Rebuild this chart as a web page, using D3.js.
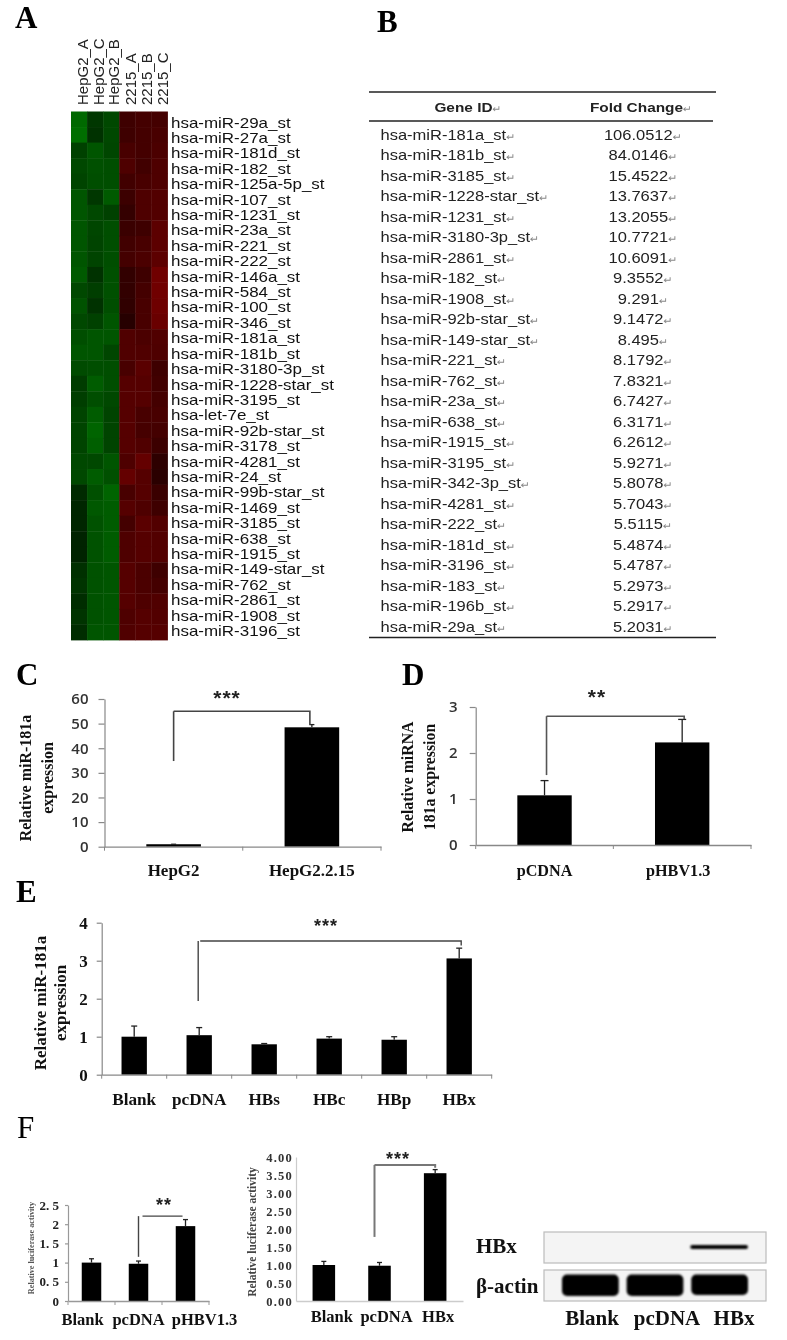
<!DOCTYPE html>
<html><head><meta charset="utf-8">
<script src="https://cdnjs.cloudflare.com/ajax/libs/d3/7.8.5/d3.min.js"></script>
<style>
html,body{margin:0;padding:0;background:#fff}
svg{display:block;filter:blur(.4px)}
</style></head><body><svg id="c" width="787" height="1340"></svg>
<script>
// ---------- Panel A data
const heatColumns=["HepG2_A","HepG2_C","HepG2_B","2215_A","2215_B","2215_C"];
const heatGenes=["hsa-miR-29a_st","hsa-miR-27a_st","hsa-miR-181d_st","hsa-miR-182_st","hsa-miR-125a-5p_st","hsa-miR-107_st","hsa-miR-1231_st","hsa-miR-23a_st","hsa-miR-221_st","hsa-miR-222_st","hsa-miR-146a_st","hsa-miR-584_st","hsa-miR-100_st","hsa-miR-346_st","hsa-miR-181a_st","hsa-miR-181b_st","hsa-miR-3180-3p_st","hsa-miR-1228-star_st","hsa-miR-3195_st","hsa-let-7e_st","hsa-miR-92b-star_st","hsa-miR-3178_st","hsa-miR-4281_st","hsa-miR-24_st","hsa-miR-99b-star_st","hsa-miR-1469_st","hsa-miR-3185_st","hsa-miR-638_st","hsa-miR-1915_st","hsa-miR-149-star_st","hsa-miR-762_st","hsa-miR-2861_st","hsa-miR-1908_st","hsa-miR-3196_st"];
const heatGreen=[[105,55,72],[110,50,72],[65,85,70],[72,80,78],[68,78,78],[85,55,90],[85,72,65],[85,70,78],[85,68,78],[85,68,78],[90,50,80],[72,62,80],[82,50,78],[72,65,85],[78,85,85],[85,85,70],[75,78,78],[60,92,78],[62,78,72],[68,92,68],[68,100,68],[68,95,68],[72,72,85],[72,92,80],[42,80,100],[38,88,92],[38,82,92],[35,82,92],[35,82,92],[48,82,85],[52,82,85],[45,82,85],[52,82,85],[45,85,85]];
const heatRed=[[62,68,68],[62,68,72],[72,68,75],[78,65,78],[65,72,78],[60,78,82],[52,78,82],[58,62,92],[65,72,92],[68,75,92],[50,62,112],[50,68,112],[48,72,110],[38,72,105],[80,75,80],[80,80,78],[72,90,62],[85,85,65],[85,85,68],[85,72,72],[85,70,68],[85,80,60],[78,100,45],[100,85,42],[72,85,58],[85,78,62],[68,90,82],[78,85,82],[78,85,82],[85,75,62],[85,75,68],[85,78,80],[78,85,82],[80,85,85]];
// ---------- Panel B data
const tableGenes=["hsa-miR-181a_st","hsa-miR-181b_st","hsa-miR-3185_st","hsa-miR-1228-star_st","hsa-miR-1231_st","hsa-miR-3180-3p_st","hsa-miR-2861_st","hsa-miR-182_st","hsa-miR-1908_st","hsa-miR-92b-star_st","hsa-miR-149-star_st","hsa-miR-221_st","hsa-miR-762_st","hsa-miR-23a_st","hsa-miR-638_st","hsa-miR-1915_st","hsa-miR-3195_st","hsa-miR-342-3p_st","hsa-miR-4281_st","hsa-miR-222_st","hsa-miR-181d_st","hsa-miR-3196_st","hsa-miR-183_st","hsa-miR-196b_st","hsa-miR-29a_st"];
const tableFold=["106.0512","84.0146","15.4522","13.7637","13.2055","10.7721","10.6091","9.3552","9.291","9.1472","8.495","8.1792","7.8321","6.7427","6.3171","6.2612","5.9271","5.8078","5.7043","5.5115","5.4874","5.4787","5.2973","5.2917","5.2031"];
// ---------- Bar panel data
const cCats=["HepG2","HepG2.2.15"],cVals=[1,48.5],cErr=[1,49.6];
const dCats=["pCDNA","pHBV1.3"],dVals=[1.08,2.23],dErr=[1.4,2.73];
const eCats=["Blank","pcDNA","HBs","HBc","HBp","HBx"],eVals=[1.0,1.04,0.8,0.95,0.92,3.06],eErr=[1.28,1.24,0.82,1.0,1.0,3.33];
const f1Cats=["Blank","pcDNA","pHBV1.3"],f1Vals=[1.0,0.97,1.95],f1Err=[1.1,1.04,2.12];
const f2Cats=["Blank","pcDNA","HBx"],f2Vals=[1.0,0.98,3.55],f2Err=[1.1,1.07,3.65];
const cTicks=[0,10,20,30,40,50,60],dTicks=[0,1,2,3],eTicks=[0,1,2,3,4];
const f1Ticks=[0,0.5,1,1.5,2,2.5],f1TickLabels=["0","0. 5","1","1. 5","2","2. 5"];
const f2Ticks=[0,0.5,1,1.5,2,2.5,3,3.5,4];
// ---------- Western blot data
const blotLanes=["Blank","pcDNA","HBx"];
const blotHBx=[0,0,1];
const blotActin=[1,1,0.95];

const serif='"Liberation Serif",serif',sans='"Liberation Sans",sans-serif';
const svg=d3.select("#c");

// Panel letters
[["A",15,28,"bold"],["B",377,32,"bold"],["C",16,685,"bold"],["D",402,685,"bold"],["E",16,902,"bold"],["F",17,1138,"normal"]]
 .forEach(([t,x,y,w])=>svg.append("text").attr("x",x).attr("y",y).attr("font-family",serif).attr("font-size",31).attr("font-weight",w).attr("fill","#000").text(t));

// ---------- Panel A
const hx=d3.scaleBand().domain(heatColumns).range([71,167.5]);
const hy=d3.scaleBand().domain(heatGenes).range([111.5,640]);
const hc=d3.scaleLinear().domain([-255,0,255]).range(["#00ff00","#000000","#ff0000"]);
const heat=svg.append("g");
heatGenes.forEach((g,i)=>{
  const row=heatGreen[i].map(v=>-v).concat(heatRed[i]);
  heat.selectAll(null).data(row).join("rect")
    .attr("x",(d,j)=>hx(heatColumns[j])).attr("y",hy(g))
    .attr("width",hx.bandwidth()+.4).attr("height",hy.bandwidth()+.4)
    .attr("fill",d=>hc(d));
});
const hl=d3.scalePoint().domain(heatGenes).range([127.6,636]);
svg.append("g").selectAll("text").data(heatGenes).join("text")
  .attr("transform",d=>`translate(171,${hl(d)}) scale(1.17,1)`).attr("font-family",sans).attr("font-size",14.5).attr("fill","#111").text(d=>d);
const colCenters=d3.scaleOrdinal().domain(heatColumns).range([87.5,103.5,119,136,151.5,168]);
svg.append("g").selectAll("text").data(heatColumns).join("text")
  .attr("transform",d=>`translate(${colCenters(d)},105) rotate(-90)`)
  .attr("font-family",sans).attr("font-size",15).attr("fill","#222").text(d=>d);

// ---------- Panel B
const ty=d3.scalePoint().domain(tableGenes).range([139.5,632]);
[[92,369,716,1.6],[121,369,713,1.6],[637.5,369,716,1.4]].forEach(([y,a,b,w])=>
  svg.append("line").attr("x1",a).attr("x2",b).attr("y1",y).attr("y2",y).attr("stroke","#222").attr("stroke-width",w));
const arrow=(sel)=>sel.append("tspan").attr("font-family",'"DejaVu Sans"').attr("font-size",9.5).attr("font-weight","normal").attr("fill","#888").text("\u21B5");
[["Gene ID",468],["Fold Change",641]].forEach(([t,x])=>{
  const e=svg.append("text").attr("transform",`translate(${x},112) scale(1.14,1)`).attr("text-anchor","middle").attr("font-family",sans).attr("font-size",13.5).attr("font-weight","bold").attr("fill","#222").text(t);
  arrow(e);
});
tableGenes.forEach((g,i)=>{
  arrow(svg.append("text").attr("transform",`translate(380.5,${ty(g)}) scale(1.18,1)`).attr("font-family",sans).attr("font-size",14).attr("fill","#222").text(g));
  arrow(svg.append("text").attr("transform",`translate(643,${ty(g)}) scale(1.18,1)`).attr("text-anchor","middle").attr("font-family",sans).attr("font-size",14).attr("fill","#222").text(tableFold[i]));
});

// ---------- Bar panels
function barPanel(o){
  const x=d3.scaleBand().domain(o.cats).range([o.x0,o.x1]).padding(0).paddingInner(o.pad).paddingOuter(o.pad/2);
  const y=d3.scaleLinear().domain([0,o.max]).range([o.y0,o.y1]);
  const g=svg.append("g");
  // bars
  g.selectAll("rect.b").data(o.vals).join("rect").attr("class","b")
    .attr("x",(d,i)=>x(o.cats[i])).attr("width",x.bandwidth())
    .attr("y",d=>y(d)).attr("height",d=>y(0)-y(d)).attr("fill","#000");
  // error bars
  const cx=i=>x(o.cats[i])+x.bandwidth()/2;
  o.vals.forEach((v,i)=>{
    g.append("line").attr("x1",cx(i)).attr("x2",cx(i)).attr("y1",y(v)).attr("y2",y(o.err[i])).attr("stroke","#222").attr("stroke-width",1.3);
    g.append("line").attr("x1",cx(i)-o.cap).attr("x2",cx(i)+o.cap).attr("y1",y(o.err[i])).attr("y2",y(o.err[i])).attr("stroke","#222").attr("stroke-width",1.3);
  });
  // axes
  const ax=g.append("g").attr("transform",`translate(0,${o.y0})`).call(d3.axisBottom(x).tickValues([]).tickSize(0).tickSizeOuter(0));
  ax.selectAll("path").attr("stroke",o.axis).attr("stroke-width",1.3);
  if(o.xTicks){
    d3.range(o.cats.length+1).forEach(i=>{
      const p=o.x0+(o.x1-o.x0)*i/o.cats.length;
      g.append("line").attr("x1",p).attr("x2",p).attr("y1",o.y0).attr("y2",o.y0+4).attr("stroke",o.axis).attr("stroke-width",1);
    });
  }
  const ay=g.append("g").attr("transform",`translate(${o.x0},0)`)
    .call(d3.axisLeft(y).tickValues(o.ticks).tickSize(o.tick).tickSizeOuter(0).tickPadding(o.tickPad).tickFormat((d,i)=>o.labels?o.labels[i]:o.fmt?o.fmt(d):d));
  ay.selectAll("path,line").attr("stroke",o.axis).attr("stroke-width",1.2);
  ay.selectAll("text").attr("font-family",o.tickFont).attr("font-size",o.tickSize).attr("font-weight",o.tickWeight).attr("fill",o.tickFill).attr("letter-spacing",o.tickLs||0);
  // category labels
  g.selectAll("text.cat").data(o.cats).join("text").attr("class","cat")
    .attr("x",(d,i)=>cx(i)+(o.catShift?o.catShift[i]:0)).attr("y",o.catY).attr("text-anchor","middle")
    .attr("font-family",serif).attr("font-weight","bold").attr("font-size",o.catSize).attr("fill","#111").text(d=>d);
  // y title
  o.title.forEach(([t,tx])=>g.append("text").attr("transform",`translate(${tx},${o.titleY}) rotate(-90)`)
    .attr("text-anchor","middle").attr("dy",".35em").attr("font-family",serif).attr("font-weight","bold")
    .attr("font-size",o.titleSize).attr("fill",o.titleFill||"#111").text(t));
  // significance bracket
  const b=o.bracket,xa=cx(b.from)+(b.fromShift||0),xb=cx(b.to)+(b.toShift||0);
  const bg=g.append("g").attr("fill","none").attr("stroke",b.color).attr("stroke-width",b.w);
  bg.append("path").attr("d",d3.line()([[xa,y(b.low)],[xa,y(b.top)]]));
  bg.append("path").attr("d",d3.line()([[xa+(b.gap||0),y(b.top)],[xb,y(b.top)],...(b.end!=null?[[xb,y(b.end)]]:[])]));
  g.append("text").attr("x",b.sx).attr("y",b.sy).attr("text-anchor","middle").attr("font-family",sans).attr("font-weight","bold")
    .attr("font-size",b.ss).attr("letter-spacing",b.ls).attr("fill","#222").text(b.stars);
}
const openS='"Open Sans",sans-serif';
barPanel({cats:cCats,vals:cVals,err:cErr,x0:104.5,x1:381,y0:846.7,y1:699,max:60,pad:.605,cap:2.5,ticks:cTicks,tick:6,tickPad:10,tickFont:openS,tickSize:15,tickWeight:600,tickFill:"#333",axis:"#888",xTicks:true,
  catY:876,catSize:17,title:[["Relative miR-181a",25],["expression",47.5]],titleY:778,titleSize:16,
  bracket:{from:0,to:1,low:34.8,top:55,end:49.5,fromShift:0,toShift:-2,color:"#444",w:1.6,stars:"***",sx:227,sy:705,ss:21,ls:1}});
barPanel({cats:dCats,vals:dVals,err:dErr,x0:475.7,x1:751,y0:845,y1:707,max:3,pad:.605,cap:4,ticks:dTicks,tick:6,tickPad:12,tickFont:openS,tickSize:15,tickWeight:600,tickFill:"#333",axis:"#888",xTicks:true,
  catY:876,catSize:16.2,catShift:[0,-4],title:[["Relative miRNA",407],["181a expression",429]],titleY:777,titleSize:15.8,
  bracket:{from:0,to:1,low:1.52,top:2.8,end:2.74,fromShift:2,toShift:2,color:"#555",w:1.6,stars:"**",sx:597,sy:704,ss:21,ls:1}});
barPanel({cats:eCats,vals:eVals,err:eErr,x0:101.7,x1:491.7,y0:1074.7,y1:922.7,max:4,pad:.61,cap:3,ticks:eTicks,tick:5,tickPad:9,tickFont:serif,tickSize:17,tickWeight:"bold",tickFill:"#111",axis:"#888",xTicks:true,
  catY:1105,catSize:17.2,title:[["Relative miR-181a",40],["expression",60]],titleY:1003,titleSize:17,
  bracket:{from:1,to:5,low:1.94,top:3.52,end:3.4,fromShift:-1,toShift:2,gap:2,color:"#444",w:1.4,stars:"***",sx:326,sy:932,ss:18,ls:1}});
barPanel({cats:f1Cats,vals:f1Vals,err:f1Err,x0:68,x1:209,y0:1301,y1:1205,max:2.5,pad:.585,cap:2.5,ticks:f1Ticks,labels:f1TickLabels,tick:3,tickPad:6,tickFont:serif,tickSize:13,tickWeight:"bold",tickFill:"#222",axis:"#999",xTicks:true,
  catY:1325,catSize:16.5,catShift:[-9,0,19],title:[["Relative luciferase activity",31]],titleY:1248,titleSize:8.2,titleFill:"#555",
  bracket:{from:1,to:2,low:1.15,top:2.21,fromShift:0,toShift:-3,gap:4,color:"#444",w:1.4,stars:"**",sx:164,sy:1211,ss:18,ls:1}});
barPanel({cats:f2Cats,vals:f2Vals,err:f2Err,x0:296,x1:463,y0:1301,y1:1157,max:4,pad:.595,cap:2.5,ticks:f2Ticks,tick:0,tickPad:3,fmt:d3.format(".2f"),tickFont:serif,tickSize:12.5,tickWeight:"bold",tickFill:"#333",tickLs:1.2,axis:"#ccc",
  catY:1322,catSize:16.5,catShift:[8,7,3],title:[["Relative luciferase activity",252]],titleY:1232,titleSize:11.5,titleFill:"#444",
  bracket:{from:1,to:2,low:1.78,top:3.78,end:3.7,fromShift:-5,toShift:0,color:"#777",w:2,stars:"***",sx:398,sy:1165,ss:18,ls:1}});

// ---------- Western blot
const defs=svg.append("defs");
defs.append("filter").attr("id","soft").attr("x","-20%").attr("y","-60%").attr("width","140%").attr("height","220%")
  .append("feGaussianBlur").attr("stdDeviation",1);
const lane=d3.scaleBand().domain(blotLanes).range([560,750]).paddingInner(.06);
const alpha=d3.scaleLinear().domain([0,1]).range([0,1]);
[[1232,1263],[1270,1301]].forEach(([a,b])=>svg.append("rect").attr("x",544).attr("y",a).attr("width",222).attr("height",b-a)
  .attr("fill","#f4f4f4").attr("stroke","#bbb").attr("stroke-width",1.2));
svg.append("g").selectAll("rect").data(blotHBx).join("rect")
  .attr("x",(d,i)=>lane(blotLanes[i])+1).attr("width",lane.bandwidth()-3).attr("y",1245).attr("height",4).attr("rx",2)
  .attr("fill","#000").attr("opacity",d=>alpha(d)).attr("filter","url(#soft)");
svg.append("g").selectAll("rect").data(blotActin).join("rect")
  .attr("x",(d,i)=>lane(blotLanes[i])+2).attr("width",lane.bandwidth()-4).attr("y",1274.5).attr("height",(d)=>21.5*d).attr("rx",5)
  .attr("fill","#050505").attr("filter","url(#soft)");
[["HBx",476,1253],["\u03B2-actin",476,1293]].forEach(([t,x,y])=>svg.append("text").attr("x",x).attr("y",y).attr("font-family",serif).attr("font-weight","bold").attr("font-size",21).attr("fill","#111").text(t));
blotLanes.forEach((t,i)=>svg.append("text").attr("x",[592,667,734][i]).attr("y",1325).attr("text-anchor","middle").attr("font-family",serif).attr("font-weight","bold").attr("font-size",21).attr("fill","#111").text(t));
</script></body></html>
